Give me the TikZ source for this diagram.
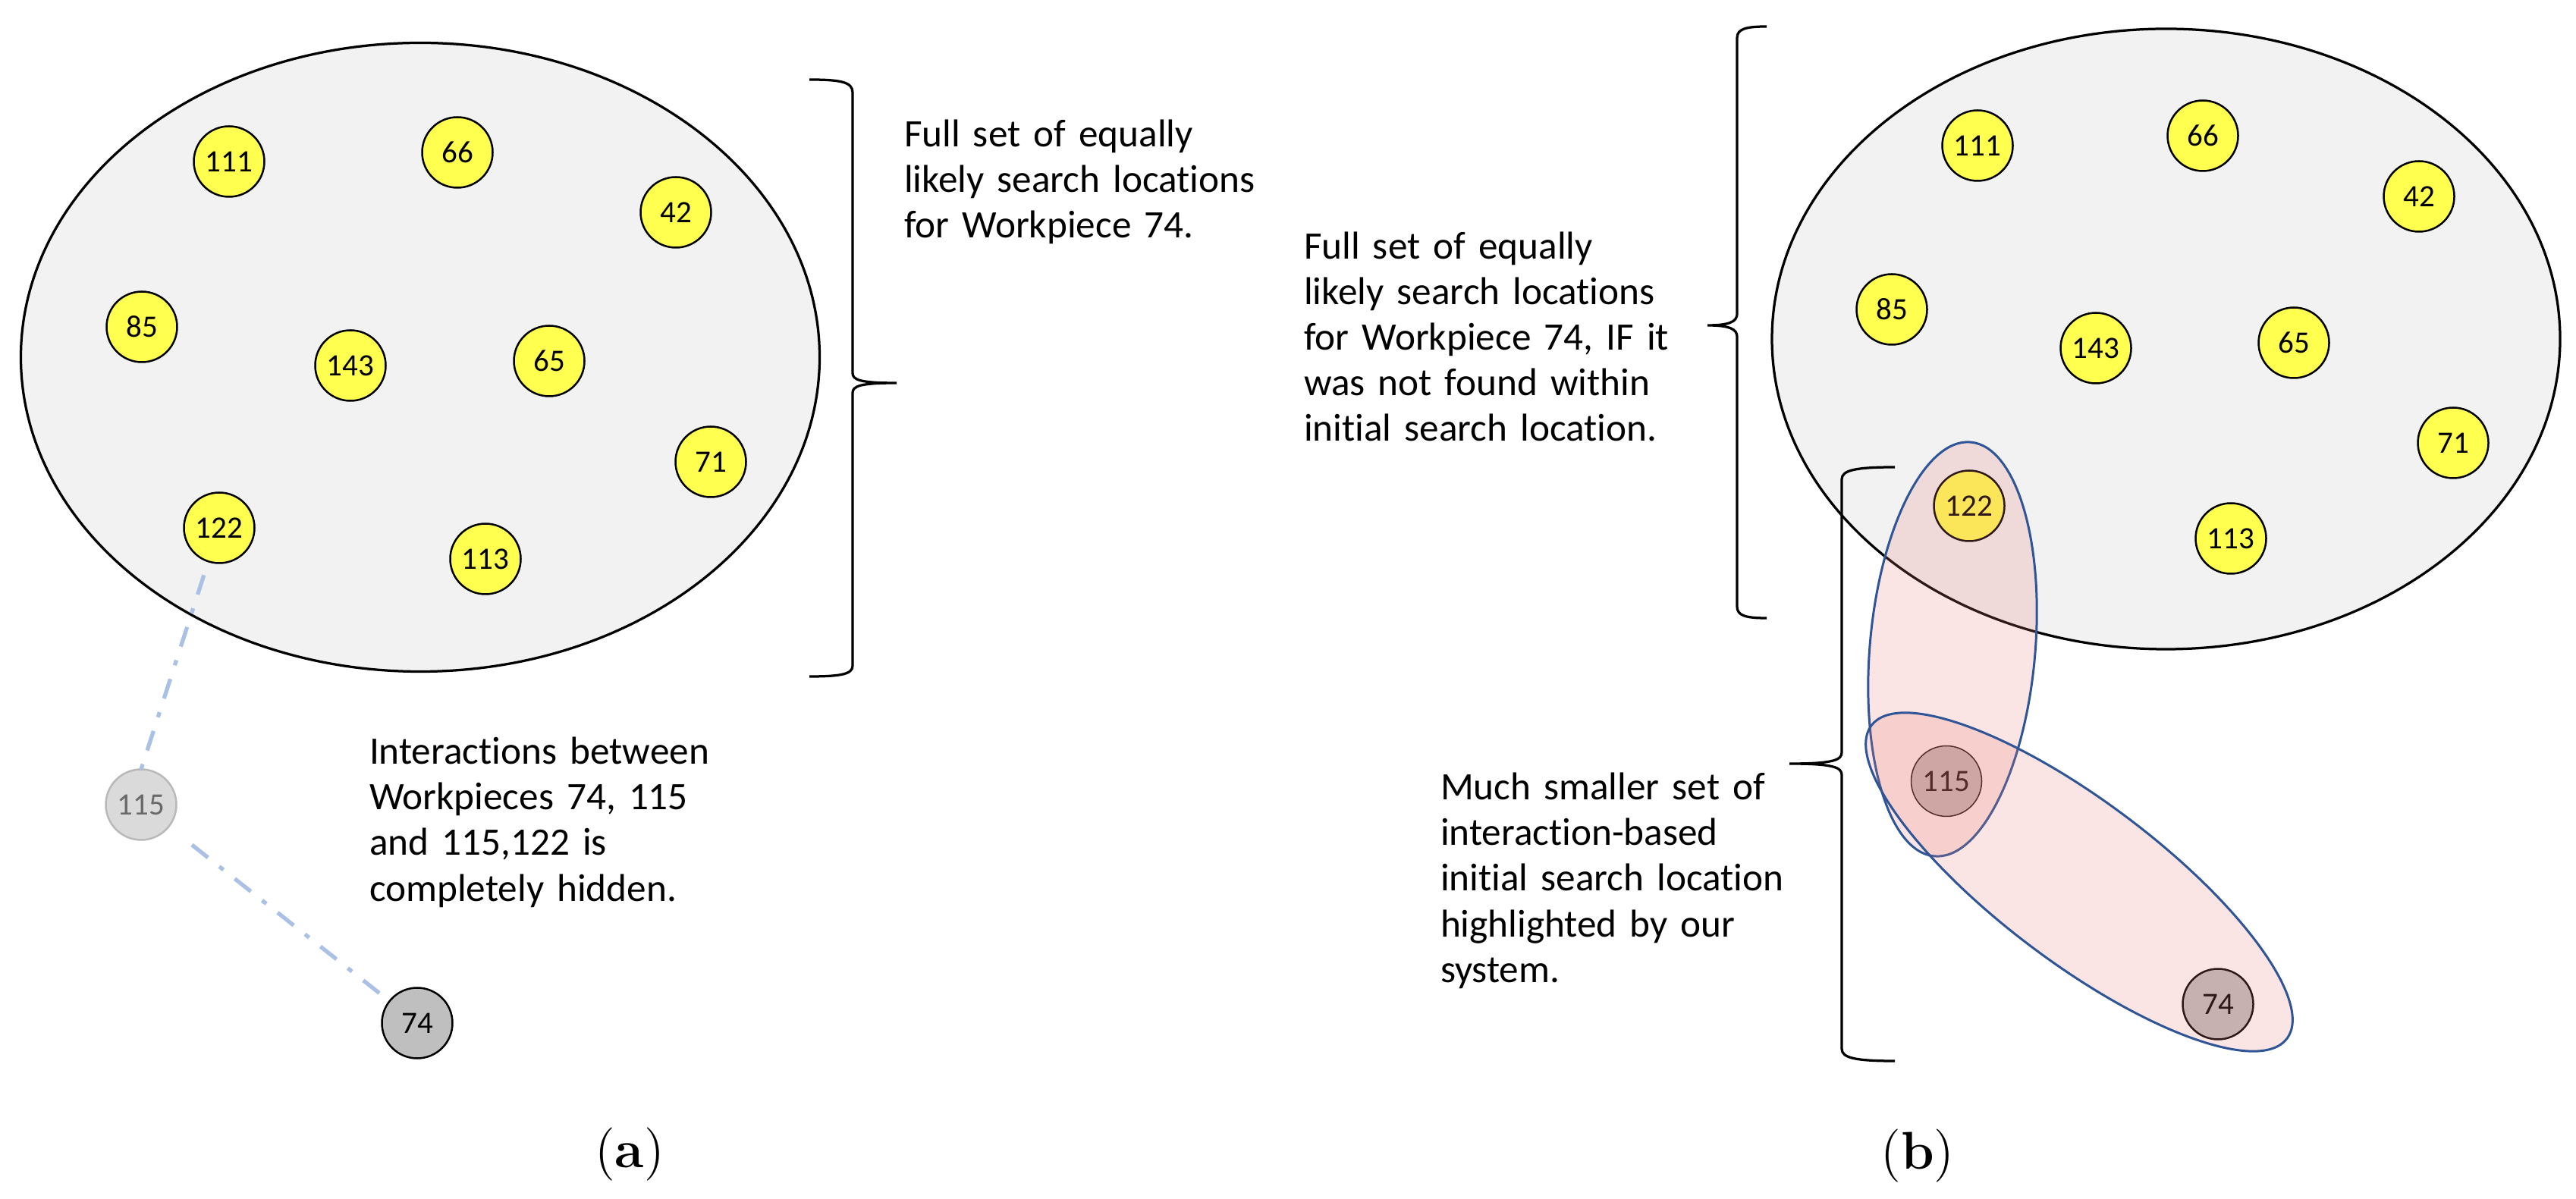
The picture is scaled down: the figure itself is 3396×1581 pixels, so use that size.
\documentclass[tikz,border=0pt]{standalone}
\usepackage{fontspec}
\usetikzlibrary{shapes.geometric}
\newfontfamily\carlito{Carlito}[Ligatures={NoCommon}]
\definecolor{nodeyellow}{RGB}{255,255,80}
\definecolor{setfill}{RGB}{242,242,242}
\definecolor{linkblue}{RGB}{170,192,228}
\definecolor{pinkfill}{RGB}{235,125,120}
\definecolor{pinkborder}{RGB}{47,85,151}
\definecolor{nodegray}{RGB}{191,191,191}
\definecolor{fadefill}{RGB}{218,218,218}
\definecolor{fadedraw}{RGB}{185,185,185}
\definecolor{fadetext}{RGB}{105,105,105}
\tikzset{
  wp/.style={circle, draw=black, line width=0.5pt, minimum size=18.6pt, inner sep=0pt, outer sep=0pt,
    font=\carlito\fontsize{8.2}{9.6}\selectfont},
  yel/.style={wp, fill=nodeyellow},
  grey/.style={wp, fill=nodegray},
  faded/.style={wp, fill=fadefill, draw=fadedraw, text=fadetext},
  setell/.style={ellipse, draw=black, fill=setfill, line width=0.65pt, inner sep=0pt, outer sep=0pt},
  hilite/.style={ellipse, draw=pinkborder, line width=0.6pt, fill=pinkfill, fill opacity=0.2,
    draw opacity=1, inner sep=0pt, outer sep=0pt},
  link/.style={draw=linkblue, line width=1.05pt, dash pattern=on 5.4pt off 3.8pt on 1.4pt off 3.8pt},
  brace/.style={draw=black, line width=0.65pt},
  txt/.style={font=\carlito\fontsize{10.25}{12}\selectfont, align=left, inner sep=0pt, outer sep=0pt,
    anchor=base west, text width=125pt},
  subcap/.style={font=\fontsize{14}{16}\selectfont, inner sep=0pt}
}
\begin{document}
\begin{tikzpicture}[x=0.2pt,y=-0.2pt]
\useasboundingbox (0,0) rectangle (3396,1581);
\fill[white] (0,0) rectangle (3396,1581);

% ---------- panel (a) ----------
\node[setell, minimum width=210.6pt, minimum height=165.8pt] (setA) at (554,471) {};
\node[yel] (a111) at (302,213) {111};
\node[yel] (a66)  at (603,201) {66};
\node[yel] (a42)  at (891,280) {42};
\node[yel] (a85)  at (187,431) {85};
\node[yel] (a143) at (462,482) {143};
\node[yel] (a65)  at (724,476) {65};
\node[yel] (a71)  at (937,609) {71};
\node[yel] (a122) at (289,696) {122};
\node[yel] (a113) at (640,737) {113};
\node[faded] (a115) at (186,1061) {115};
\node[grey] (a74) at (550,1349) {74};
\draw[link, shorten <=3.8pt] (a122) -- (a115.north);
\draw[link, shorten <=7.8pt, shorten >=2.8pt] (a115) -- (a74);

\draw[brace] (1067,105) .. controls (1108,105) and (1124,108) .. (1124,122)
  -- (1124,492) .. controls (1124,501) and (1134,505) .. (1182,505)
  .. controls (1134,505) and (1124,509) .. (1124,518)
  -- (1124,878) .. controls (1124,889) and (1108,892) .. (1067,892);

\node[txt] (tA1) at (1192,194) {Full set of equally\\likely search locations\\for Workpiece 74.};
\node[txt] (tA2) at (487,1008) {Interactions between\\Workpieces 74, 115\\and 115,122 is\\completely hidden.};
\node[subcap] (capA) at (830,1522) {(\textbf{a})};

% ---------- panel (b) ----------
\node[setell, minimum width=207.8pt, minimum height=163.6pt] (setB) at (2855.5,447) {};
\node[yel] (b111) at (2607,192) {111};
\node[yel] (b66)  at (2904,179) {66};
\node[yel] (b42)  at (3189,259) {42};
\node[yel] (b85)  at (2494,408) {85};
\node[yel] (b143) at (2763,459) {143};
\node[yel] (b65)  at (3024,452) {65};
\node[yel] (b71)  at (3234,584) {71};
\node[yel] (b122) at (2596,667) {122};
\node[yel] (b113) at (2941,710) {113};
\node[wp, fill=nodegray, line width=0.3pt] (b115) at (2566,1030) {115};
\node[grey] (b74) at (2924,1324) {74};

\node[hilite, minimum width=43.6pt, minimum height=109.6pt, rotate=-5] (hl1) at (2574,856) {};
\node[hilite, minimum width=137.2pt, minimum height=42.4pt, rotate=-37] (hl2) at (2741,1163) {};

\draw[brace] (2329,35) .. controls (2302,35) and (2290,38) .. (2290,50)
  -- (2290,414) .. controls (2290,424) and (2280,429) .. (2251,429)
  .. controls (2280,429) and (2290,434) .. (2290,444)
  -- (2290,800) .. controls (2290,812) and (2302,815) .. (2329,815);

\draw[brace] (2498,616) .. controls (2446,616) and (2428,620) .. (2428,632)
  -- (2428,992) .. controls (2428,1002) and (2418,1007) .. (2359,1007)
  .. controls (2418,1007) and (2428,1012) .. (2428,1022)
  -- (2428,1383) .. controls (2428,1395) and (2446,1399) .. (2498,1399);

\node[txt] (tB1) at (1719,342) {Full set of equally\\likely search locations\\for Workpiece 74, IF it\\was not found within\\initial search location.};
\node[txt] (tB2) at (1899,1055) {Much smaller set of\\interaction-based\\initial search location\\highlighted by our\\system.};
\node[subcap] (capB) at (2528,1524) {(\textbf{b})};
\end{tikzpicture}
\end{document}
